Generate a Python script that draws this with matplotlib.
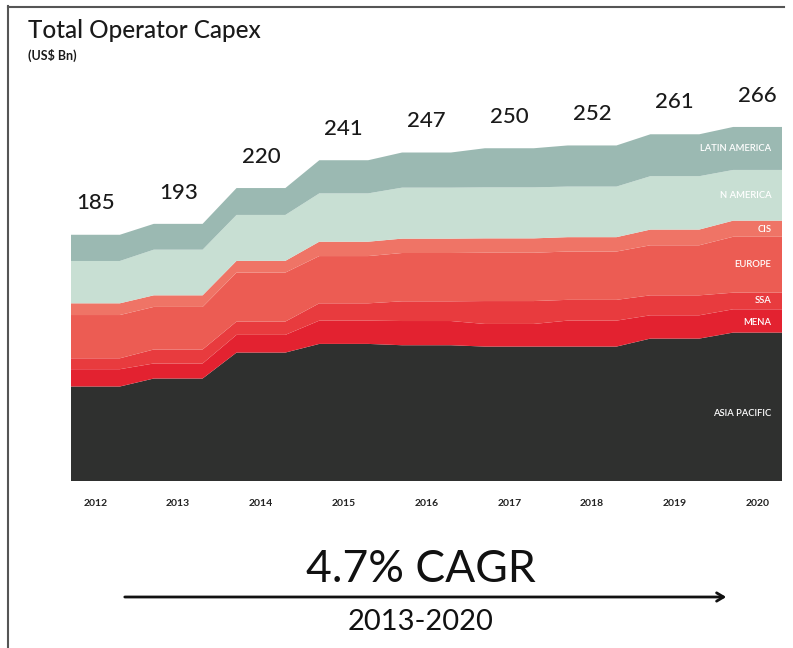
import numpy as np
import matplotlib
matplotlib.use('Agg')
import matplotlib.pyplot as plt
from matplotlib.lines import Line2D

plt.rcParams['font.family'] = ['Lato', 'DejaVu Sans']

# capex by region, US$ Bn
years = [2012, 2013, 2014, 2015, 2016, 2017, 2018, 2019, 2020]
totals = [185, 193, 220, 241, 247, 250, 252, 261, 266]

regions = ['ASIA PACIFIC', 'MENA', 'SSA', 'EUROPE', 'CIS', 'N AMERICA', 'LATIN AMERICA']
asia_pacific = [71, 77, 96.5, 103, 102, 101, 101, 107, 111.5]
mena = [13, 11.3, 13.3, 17.5, 18.2, 17, 19.5, 17.5, 17.5]
ssa = [8.2, 10.5, 10, 13, 14.8, 17.2, 15.6, 15, 12.5]
europe = [32.5, 32, 36.8, 35.5, 36.3, 36.3, 36.3, 37.6, 42]
cis = [8.8, 8.7, 8.8, 10.8, 10.8, 10.8, 10.8, 11.8, 12.1]
n_america = [31.8, 34.3, 34.5, 36.3, 38.3, 38.3, 38, 40.1, 38.1]
latin_america = [19.7, 19.4, 20.2, 24.9, 26.4, 29.4, 30.9, 31.5, 32.3]

colors = ['#2f302f', '#e32230', '#e83b3e', '#ec5c53', '#ef7466', '#c8dfd3', '#9bb9b2']

series = [asia_pacific, mena, ssa, europe, cis, n_america, latin_america]

# each year is drawn as a flat plateau, joined by a slope to the next one
half = 0.295
x_step = np.ravel([[y - half, y + half] for y in years])
ys = [np.repeat(s, 2) for s in series]

W, H = 793, 648
fig = plt.figure(figsize=(W / 100, H / 100), dpi=100)

# axes placed in pixels: plot spans x 71..782, baseline at y 481
px_per_unit = 1.331
ymax = 300
ax_h = ymax * px_per_unit
ax = fig.add_axes([71 / W, (H - 481) / H, 711 / W, ax_h / H])
ax.stackplot(x_step, *ys, colors=colors, linewidth=0)
ax.set_xlim(years[0] - half, years[-1] + half)
ax.set_ylim(0, ymax)
ax.axis('off')

# totals above each year
for yr, tot in zip(years, totals):
    ax.text(yr, tot + 23.5, str(tot), ha='center', va='center', fontsize=16,
            fontweight=500, color='#1a1a1a')

# year labels under the plot
for yr in years:
    ax.text(yr, -17, str(yr), ha='center', va='center', fontsize=7.5,
            fontweight='bold', color='#222222')

# region labels at the right end
cum = np.cumsum([s[-1] for s in series])
lab_y = [(481 - 413) / px_per_unit]
for i in range(1, len(series)):
    lab_y.append(cum[i - 1] + series[i][-1] / 2)
lab_y[1] -= 1.5
lab_y[2] += 0.5
lab_y[4] -= 0.5
for name, yv in zip(regions, lab_y):
    ax.text(years[-1] + half - 0.13, yv, name, ha='right', va='center',
            fontsize=6.8, fontweight=600, color='white')

# title block
fig.text(28 / W, 1 - 31 / H, 'Total Operator Capex', fontsize=17.5,
         fontweight=500, color='#1a1a1a', va='center', ha='left')
fig.text(28 / W, 1 - 55 / H, '(US$ Bn)', fontsize=9, fontweight='bold',
         color='#1a1a1a', va='center', ha='left')

# CAGR note and arrow
fig.text(421 / W, 1 - 569 / H, '4.7% CAGR', fontsize=32, ha='center',
         va='center', color='#111111')
fig.text(421 / W, 1 - 622 / H, '2013-2020', fontsize=21, ha='center',
         va='center', color='#111111')
fig.patches.append(matplotlib.patches.FancyArrowPatch(
    (122 / W, 1 - 597 / H), (729 / W, 1 - 597 / H),
    transform=fig.transFigure, arrowstyle='->,head_length=5,head_width=3',
    mutation_scale=1, lw=2, color='#111111'))

# frame lines (left and top only)
fig.add_artist(Line2D([8 / W, 8 / W], [0, 1 - 6 / H], transform=fig.transFigure,
                      color='#555555', lw=1.5))
fig.add_artist(Line2D([8 / W, 784 / W], [1 - 7 / H, 1 - 7 / H],
                      transform=fig.transFigure, color='#555555', lw=1.5))

fig.savefig('out.png', dpi=100, facecolor='white')
